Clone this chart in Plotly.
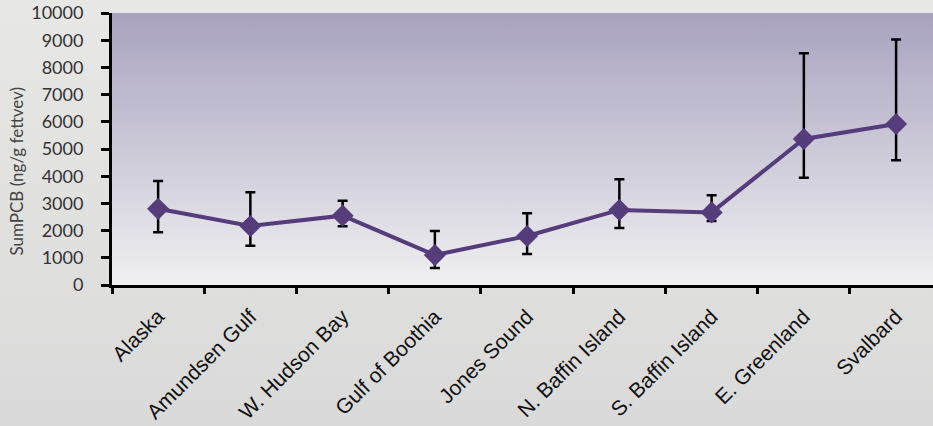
import base64
import plotly.graph_objects as go

categories = ["Alaska", "Amundsen Gulf", "W. Hudson Bay", "Gulf of Boothia", "Jones Sound",
              "N. Baffin Island", "S. Baffin Island", "E. Greenland", "Svalbard"]
mean_pcb = [2800, 2170, 2550, 1100, 1800, 2760, 2670, 5370, 5920]
upper_pcb = [3820, 3410, 3100, 1985, 2640, 3890, 3300, 8520, 9030]
lower_pcb = [1940, 1445, 2160, 625, 1140, 2100, 2350, 3945, 4585]
y_title = "SumPCB (ng/g fettvev)"

err_plus = [u - m for u, m in zip(upper_pcb, mean_pcb)]
err_minus = [m - l for m, l in zip(mean_pcb, lower_pcb)]


def grad_uri(c_top, c_bot):
    svg = ('<svg xmlns="http://www.w3.org/2000/svg" width="100" height="100" preserveAspectRatio="none">'
           '<defs><linearGradient id="g" x1="0" y1="0" x2="0" y2="1">'
           '<stop offset="0" stop-color="%s"/><stop offset="1" stop-color="%s"/>'
           '</linearGradient></defs><rect width="100" height="100" fill="url(#g)"/></svg>') % (c_top, c_bot)
    return "data:image/svg+xml;base64," + base64.b64encode(svg.encode()).decode()


fig = go.Figure()

fig.add_trace(go.Scatter(
    x=categories, y=mean_pcb, mode="lines+markers",
    line=dict(color="#553c7b", width=4),
    marker=dict(symbol="diamond", size=17, color="#553c7b"),
    error_y=dict(type="data", symmetric=False, array=err_plus, arrayminus=err_minus,
                 color="black", thickness=2.5, width=5),
    showlegend=False,
))

fig.update_layout(
    width=933, height=426,
    margin=dict(l=112, r=0, t=13, b=141),
    paper_bgcolor="#e6e6e5",
    plot_bgcolor="rgba(0,0,0,0)",
    images=[
        dict(source=grad_uri("#e8e8e6", "#d9d9d9"), xref="paper", yref="paper",
             x=-0.2, y=1.1, sizex=1.3, sizey=1.7, sizing="stretch",
             xanchor="left", yanchor="top", layer="below"),
        dict(source=grad_uri("#a8a2bf", "#f0f0f1"), xref="paper", yref="paper",
             x=0, y=1, sizex=1, sizey=1, sizing="stretch",
             xanchor="left", yanchor="top", layer="below"),
    ],
    xaxis=dict(
        type="category", range=[-0.5, 8.4], tickson="boundaries",
        ticks="outside", ticklen=6, tickwidth=2.5, tickcolor="black",
        showline=True, linecolor="black", linewidth=3, showgrid=False,
        tickangle=-45, ticklabelstandoff=8,
        tickfont=dict(family="Liberation Sans, Arial", size=21, color="#111"),
        zeroline=False,
    ),
    yaxis=dict(
        range=[0, 10000], dtick=1000, tick0=0, tickformat="d",
        ticks="outside", ticklen=8, tickwidth=2.5, tickcolor="black",
        showline=True, linecolor="black", linewidth=3, showgrid=False, zeroline=False,
        ticklabelstandoff=14,
        tickfont=dict(family="Liberation Sans Narrow, Lato, sans-serif", size=18, color="#333"),
    ),
    annotations=[dict(text=y_title, textangle=-90, xref="paper", yref="paper",
                      x=-0.1157, y=0.417, xanchor="center", yanchor="middle", showarrow=False,
                      font=dict(family="Lato, sans-serif", size=17, color="#444"))],
)

fig.write_html("out.html", config={"displayModeBar": False},
               post_script="document.body.style.margin='0';document.body.style.overflow='hidden';")
